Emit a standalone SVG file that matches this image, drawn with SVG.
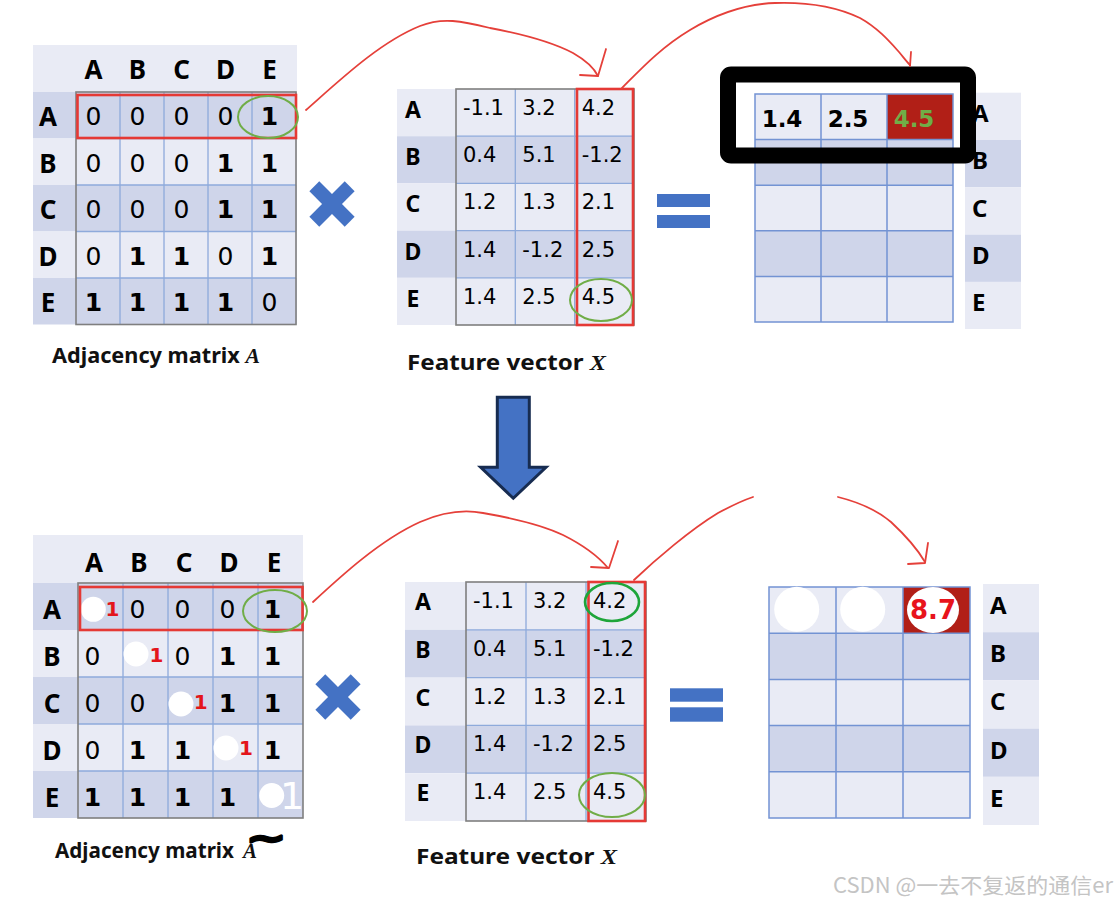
<svg xmlns="http://www.w3.org/2000/svg" width="1114" height="904" viewBox="0 0 1114 904">
<style>
.lt{fill:#e9ebf5}
.dk{fill:#cfd5ea}
.grid{stroke:#8eaadb;stroke-width:1.3;fill:none}
.gridb{stroke:#7393d3;stroke-width:1.5;fill:none}
.border{stroke:#7f7f7f;stroke-width:1.6;fill:none}
.lbl{font-family:"Noto Sans","DejaVu Sans",sans-serif;font-weight:bold;fill:#000}
.num{font-family:"DejaVu Sans",sans-serif;fill:#000}
.b{font-weight:bold}
.cap{font-family:"Noto Sans","DejaVu Sans",sans-serif;font-weight:bold;font-size:21px;fill:#111}
.mi{font-family:"Liberation Serif",serif;font-style:italic;font-weight:bold}
.red{stroke:#e5403a;stroke-width:1.8;fill:none;stroke-linecap:round;stroke-linejoin:round}
.redbox{stroke:#e53935;stroke-width:2.6;fill:none}
.ring{stroke:#70ad47;stroke-width:2;fill:none}
.blue{fill:#4472c4}
</style>
<rect width="1114" height="904" fill="#ffffff"/>

<!-- Top-left adjacency matrix -->
<g id="adj-top">
<rect x="33" y="45" width="264" height="47" class="lt"/>
<rect x="33" y="92" width="264" height="46.5" class="dk"/>
<rect x="33" y="138.5" width="264" height="46.5" class="lt"/>
<rect x="33" y="185" width="264" height="46.5" class="dk"/>
<rect x="33" y="231.5" width="264" height="46.5" class="lt"/>
<rect x="33" y="278" width="264" height="46.5" class="dk"/>
<path class="grid" d="M120,92V324.5M164,92V324.5M208,92V324.5M252,92V324.5M76,138.5H296M76,185H296M76,231.5H296M76,278H296"/>
<rect x="76" y="92" width="220" height="232.5" class="border"/>
<g class="lbl" font-size="26" text-anchor="middle">
<text x="93.5" y="78.5">A</text><text x="137.5" y="78.5">B</text><text x="181.5" y="78.5">C</text><text x="225.5" y="78.5">D</text><text x="269.5" y="78.5">E</text>
<text x="48" y="126">A</text><text x="48" y="172.5">B</text><text x="48" y="219">C</text><text x="48" y="265.5">D</text><text x="48" y="312">E</text>
</g>
<g class="num" font-size="25" text-anchor="middle">
<text x="93.5" y="125">0</text><text x="137.5" y="125">0</text><text x="181.5" y="125">0</text><text x="225.5" y="125">0</text><text x="269.5" y="125" class="b">1</text>
<text x="93.5" y="171.5">0</text><text x="137.5" y="171.5">0</text><text x="181.5" y="171.5">0</text><text x="225.5" y="171.5" class="b">1</text><text x="269.5" y="171.5" class="b">1</text>
<text x="93.5" y="218">0</text><text x="137.5" y="218">0</text><text x="181.5" y="218">0</text><text x="225.5" y="218" class="b">1</text><text x="269.5" y="218" class="b">1</text>
<text x="93.5" y="264.5">0</text><text x="137.5" y="264.5" class="b">1</text><text x="181.5" y="264.5" class="b">1</text><text x="225.5" y="264.5">0</text><text x="269.5" y="264.5" class="b">1</text>
<text x="93.5" y="311" class="b">1</text><text x="137.5" y="311" class="b">1</text><text x="181.5" y="311" class="b">1</text><text x="225.5" y="311" class="b">1</text><text x="269.5" y="311">0</text>
</g>
<rect x="77.5" y="95" width="218.5" height="43" class="redbox"/>
<ellipse cx="268" cy="117" rx="30" ry="21" class="ring"/>
<text x="52" y="363" class="cap" textLength="208" lengthAdjust="spacingAndGlyphs">Adjacency matrix <tspan class="mi">A</tspan></text>
</g>

<!-- Top multiply sign -->
<g id="times-top" class="blue" transform="translate(332,204)">
<rect x="-25" y="-7" width="50" height="14" transform="rotate(45)"/>
<rect x="-25" y="-7" width="50" height="14" transform="rotate(-45)"/>
</g>

<!-- Top feature matrix -->
<g id="feature-top">
<rect x="397" y="89" width="237" height="47.2" class="lt"/>
<rect x="397" y="136.2" width="237" height="47.2" class="dk"/>
<rect x="397" y="183.4" width="237" height="47.2" class="lt"/>
<rect x="397" y="230.6" width="237" height="47.2" class="dk"/>
<rect x="397" y="277.8" width="237" height="47.2" class="lt"/>
<path class="grid" d="M515.3,89V325M574.7,89V325M456,136.2H634M456,183.4H634M456,230.6H634M456,277.8H634"/>
<rect x="456" y="89" width="178" height="236" class="border"/>
<g class="lbl" font-size="23" text-anchor="middle">
<text x="413" y="118">A</text><text x="413" y="165.2">B</text><text x="413" y="212.4">C</text><text x="413" y="259.6">D</text><text x="413" y="306.8">E</text>
</g>
<g class="num" font-size="21">
<text x="463" y="115">-1.1</text><text x="522.3" y="115">3.2</text><text x="581.7" y="115">4.2</text>
<text x="463" y="162.2">0.4</text><text x="522.3" y="162.2">5.1</text><text x="581.7" y="162.2">-1.2</text>
<text x="463" y="209.4">1.2</text><text x="522.3" y="209.4">1.3</text><text x="581.7" y="209.4">2.1</text>
<text x="463" y="256.6">1.4</text><text x="522.3" y="256.6">-1.2</text><text x="581.7" y="256.6">2.5</text>
<text x="463" y="303.8">1.4</text><text x="522.3" y="303.8">2.5</text><text x="581.7" y="303.8">4.5</text>
</g>
<rect x="577" y="89" width="56" height="236" class="redbox"/>
<ellipse cx="601" cy="300" rx="31" ry="21" class="ring"/>
<text x="407" y="370" class="cap" textLength="199" lengthAdjust="spacingAndGlyphs">Feature vector <tspan class="mi">X</tspan></text>
</g>

<!-- Top equals -->
<g id="equals-top" class="blue">
<rect x="657" y="194" width="53" height="13"/>
<rect x="657" y="215" width="53" height="13"/>
</g>

<!-- Top result matrix -->
<g id="result-top">
<rect x="755" y="94" width="198" height="45.6" class="lt"/>
<rect x="755" y="139.6" width="198" height="45.6" class="dk"/>
<rect x="755" y="185.2" width="198" height="45.6" class="lt"/>
<rect x="755" y="230.8" width="198" height="45.6" class="dk"/>
<rect x="755" y="276.4" width="198" height="45.6" class="lt"/>
<rect x="887" y="94" width="66" height="45.6" fill="#b11f17"/>
<path class="gridb" d="M821,94V322M887,94V322M755,139.6H953M755,185.2H953M755,230.8H953M755,276.4H953"/>
<rect x="755" y="94" width="198" height="228" class="gridb"/>
<g class="num b" font-size="23" text-anchor="middle">
<text x="782" y="126.5">1.4</text><text x="848" y="126.5">2.5</text><text x="914" y="126.5" style="fill:#70ad47">4.5</text>
</g>
<rect x="965" y="92.7" width="56" height="47.3" class="lt"/>
<rect x="965" y="140" width="56" height="47.3" class="dk"/>
<rect x="965" y="187.3" width="56" height="47.3" class="lt"/>
<rect x="965" y="234.6" width="56" height="47.3" class="dk"/>
<rect x="965" y="281.9" width="56" height="47.1" class="lt"/>
<g class="lbl" font-size="24">
<text x="972" y="122">A</text><text x="972" y="169.2">B</text><text x="972" y="216.5">C</text><text x="972" y="263.8">D</text><text x="972" y="311">E</text>
</g>
<rect x="728" y="74.5" width="240" height="81" rx="3" fill="none" stroke="#000" stroke-width="16"/>
</g>

<!-- Bottom-left adjacency matrix with self loops -->
<g id="adj-bottom">
<rect x="33" y="535" width="270" height="48" class="lt"/>
<rect x="33" y="583" width="270" height="47" class="dk"/>
<rect x="33" y="630" width="270" height="47" class="lt"/>
<rect x="33" y="677" width="270" height="47" class="dk"/>
<rect x="33" y="724" width="270" height="47" class="lt"/>
<rect x="33" y="771" width="270" height="47" class="dk"/>
<path class="grid" d="M123,583V818M168,583V818M213,583V818M258,583V818M78,630H303M78,677H303M78,724H303M78,771H303"/>
<rect x="78" y="583" width="225" height="235" class="border"/>
<g class="lbl" font-size="26" text-anchor="middle">
<text x="94" y="572">A</text><text x="139" y="572">B</text><text x="184" y="572">C</text><text x="229" y="572">D</text><text x="274" y="572">E</text>
<text x="52" y="619">A</text><text x="52" y="666">B</text><text x="52" y="713">C</text><text x="52" y="760">D</text><text x="52" y="807">E</text>
</g>
<g class="num" font-size="25" text-anchor="middle">
<text x="137.5" y="617.5">0</text><text x="182.5" y="617.5">0</text><text x="227.5" y="617.5">0</text><text x="272.5" y="617.5" class="b">1</text>
<text x="92.5" y="664.5">0</text><text x="182.5" y="664.5">0</text><text x="227.5" y="664.5" class="b">1</text><text x="272.5" y="664.5" class="b">1</text>
<text x="92.5" y="711.5">0</text><text x="137.5" y="711.5">0</text><text x="227.5" y="711.5" class="b">1</text><text x="272.5" y="711.5" class="b">1</text>
<text x="92.5" y="758.5">0</text><text x="137.5" y="758.5" class="b">1</text><text x="182.5" y="758.5" class="b">1</text><text x="272.5" y="758.5" class="b">1</text>
<text x="92.5" y="805.5" class="b">1</text><text x="137.5" y="805.5" class="b">1</text><text x="182.5" y="805.5" class="b">1</text><text x="227.5" y="805.5" class="b">1</text>
</g>
<g fill="#ffffff">
<circle cx="93.3" cy="609.3" r="12.5"/>
<circle cx="136" cy="654" r="12.5"/>
<circle cx="181" cy="704" r="12.5"/>
<circle cx="226" cy="748" r="12.5"/>
<circle cx="271.7" cy="795.5" r="12.5"/>
</g>
<g class="num b" font-size="20" text-anchor="middle" style="fill:#e3151b">
<text x="112.5" y="616" style="fill:#e3151b">1</text>
<text x="156.5" y="662" style="fill:#e3151b">1</text>
<text x="200.7" y="708.5" style="fill:#e3151b">1</text>
<text x="246" y="755" style="fill:#e3151b">1</text>
</g>
<text x="292" y="809" class="num" font-size="38" text-anchor="middle" style="fill:#ffffff">1</text>
<rect x="80" y="587" width="222.5" height="43" class="redbox"/>
<ellipse cx="275" cy="611" rx="32" ry="21" class="ring"/>
<text x="55" y="858" class="cap" textLength="179" lengthAdjust="spacingAndGlyphs">Adjacency matrix</text>
<text x="243" y="858" class="cap mi">A</text>
<text x="0" y="0" transform="translate(266,850) scale(1.6,1.1)" font-family="DejaVu Sans, sans-serif" font-weight="bold" font-size="30" text-anchor="middle" fill="#000" stroke="#000" stroke-width="2.2" stroke-linejoin="round">~</text>
</g>

<!-- Bottom multiply sign -->
<g id="times-bottom" class="blue" transform="translate(338,697)">
<rect x="-25" y="-7" width="50" height="14" transform="rotate(45)"/>
<rect x="-25" y="-7" width="50" height="14" transform="rotate(-45)"/>
</g>

<!-- Bottom feature matrix -->
<g id="feature-bottom">
<rect x="405" y="582" width="241" height="47.8" class="lt"/>
<rect x="405" y="629.8" width="241" height="47.8" class="dk"/>
<rect x="405" y="677.6" width="241" height="47.8" class="lt"/>
<rect x="405" y="725.4" width="241" height="47.8" class="dk"/>
<rect x="405" y="773.2" width="241" height="47.8" class="lt"/>
<path class="grid" d="M526,582V821M586,582V821M466,629.8H646M466,677.6H646M466,725.4H646M466,773.2H646"/>
<rect x="466" y="582" width="180" height="239" class="border"/>
<g class="lbl" font-size="23" text-anchor="middle">
<text x="423" y="610">A</text><text x="423" y="657.8">B</text><text x="423" y="705.6">C</text><text x="423" y="753.4">D</text><text x="423" y="801.2">E</text>
</g>
<g class="num" font-size="21">
<text x="473" y="608">-1.1</text><text x="533" y="608">3.2</text><text x="593" y="608">4.2</text>
<text x="473" y="655.8">0.4</text><text x="533" y="655.8">5.1</text><text x="593" y="655.8">-1.2</text>
<text x="473" y="703.6">1.2</text><text x="533" y="703.6">1.3</text><text x="593" y="703.6">2.1</text>
<text x="473" y="751.4">1.4</text><text x="533" y="751.4">-1.2</text><text x="593" y="751.4">2.5</text>
<text x="473" y="799.2">1.4</text><text x="533" y="799.2">2.5</text><text x="593" y="799.2">4.5</text>
</g>
<rect x="588.5" y="582" width="56.5" height="239" class="redbox"/>
<ellipse cx="612" cy="602" rx="27" ry="19" fill="none" stroke="#1ea53a" stroke-width="2.6"/>
<ellipse cx="612" cy="795" rx="33" ry="22" class="ring"/>
<text x="416" y="864" class="cap" textLength="201" lengthAdjust="spacingAndGlyphs">Feature vector <tspan class="mi">X</tspan></text>
</g>

<!-- Bottom equals -->
<g id="equals-bottom" class="blue">
<rect x="670" y="688.3" width="53" height="13.4"/>
<rect x="670" y="707.3" width="53" height="14.4"/>
</g>

<!-- Bottom result matrix -->
<g id="result-bottom">
<rect x="769" y="587" width="201" height="46.2" class="lt"/>
<rect x="769" y="633.2" width="201" height="46.2" class="dk"/>
<rect x="769" y="679.4" width="201" height="46.2" class="lt"/>
<rect x="769" y="725.6" width="201" height="46.2" class="dk"/>
<rect x="769" y="771.8" width="201" height="46.2" class="lt"/>
<rect x="903" y="587" width="67" height="46.2" fill="#b11f17"/>
<path class="gridb" d="M836,587V818M903,587V818M769,633.2H970M769,679.4H970M769,725.6H970M769,771.8H970"/>
<rect x="769" y="587" width="201" height="231" class="gridb"/>
<circle cx="796.7" cy="609.3" r="22.5" fill="#ffffff"/>
<circle cx="862.7" cy="609.3" r="22.5" fill="#ffffff"/>
<ellipse cx="933" cy="610" rx="26" ry="23" fill="#ffffff"/>
<text x="933" y="619" class="num b" font-size="26" text-anchor="middle" style="fill:#e8141c">8.7</text>
<rect x="983" y="584" width="56" height="48.2" class="lt"/>
<rect x="983" y="632.2" width="56" height="48.2" class="dk"/>
<rect x="983" y="680.4" width="56" height="48.2" class="lt"/>
<rect x="983" y="728.6" width="56" height="48.2" class="dk"/>
<rect x="983" y="776.8" width="56" height="48.2" class="lt"/>
<g class="lbl" font-size="24">
<text x="990" y="614">A</text><text x="990" y="662.2">B</text><text x="990" y="710.4">C</text><text x="990" y="758.6">D</text><text x="990" y="806.8">E</text>
</g>
</g>

<!-- Connectors -->
<g id="connectors">
<path class="red" d="M306,110 C340,80 380,42 420,26 C442,17 462,21 490,28 C522,34 552,42 573,53 C587,61 594,68 598,76"/>
<path class="red" d="M606,49 L598,76 L580,75"/>
<path class="red" d="M622,88 C640,70 660,48 690,30 C715,15 745,4 775,3 C805,2 835,6 860,18 C878,28 890,42 899,52 C904,58 907,62 910,65"/>
<path class="red" d="M911,52 L910,66"/>
<path class="red" d="M313,602 C340,577 380,540 420,522 C443,512 462,509 483,513 C512,518 540,524 563,535 C583,545 598,556 608,568"/>
<path class="red" d="M618,541 L609,568 L591,567"/>
<path class="red" d="M634,580 C655,560 690,530 718,513 C733,505 744,500 753,497"/>
<path class="red" d="M838,497 C858,502 877,510 891,522 C905,535 918,550 925,562"/>
<path class="red" d="M928,543 L925,563 L908,564"/>
<polygon points="497.3,397.3 529.3,397.3 529.3,467.3 546,467.3 513.3,498.3 480.7,467.3 497.3,467.3" fill="#4472c4" stroke="#172c51" stroke-width="3" stroke-linejoin="miter"/>
</g>

<text x="833" y="893" font-family="'Noto Sans CJK SC', 'Noto Sans', sans-serif" font-size="21" fill="#c4c4c4" textLength="280" lengthAdjust="spacingAndGlyphs">CSDN @一去不复返的通信er</text>
</svg>
